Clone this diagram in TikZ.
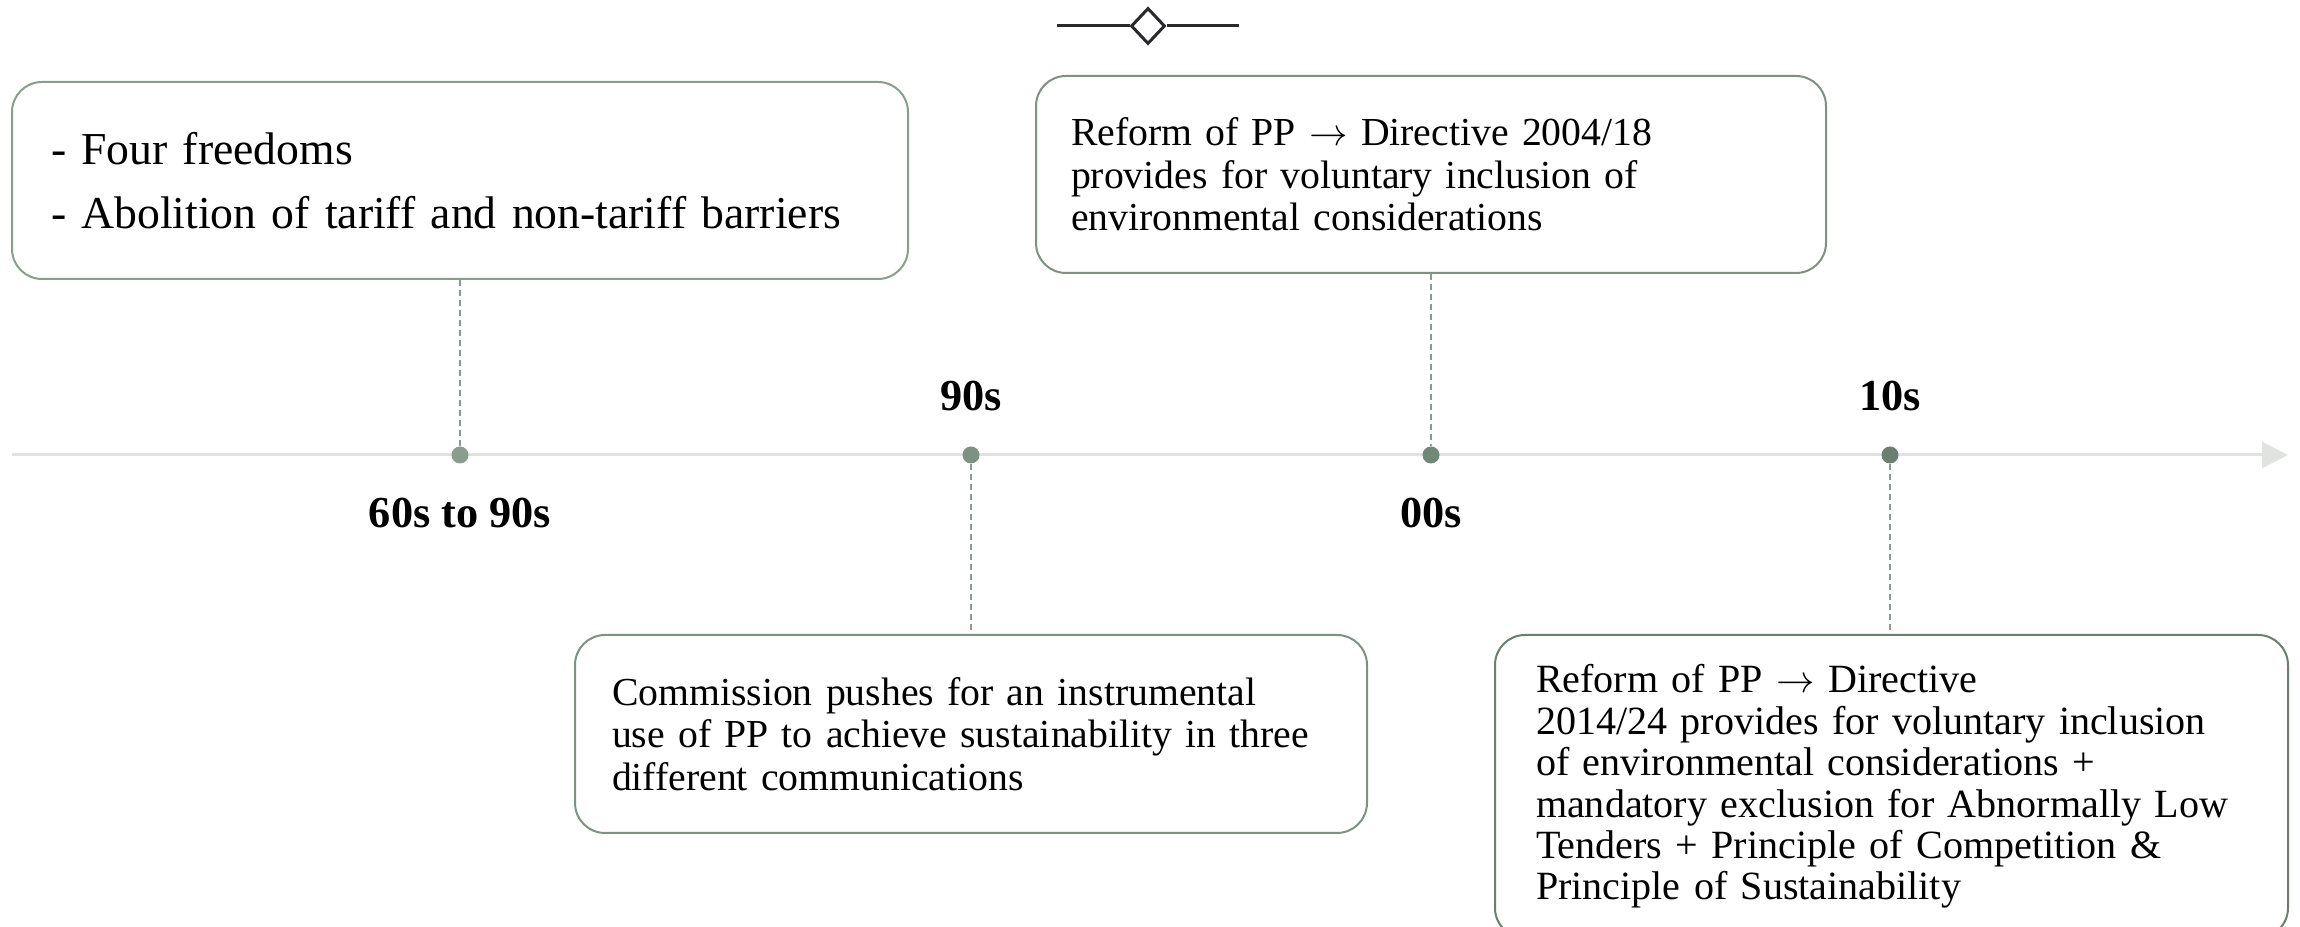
\documentclass[tikz,border=0pt]{standalone}
\usepackage{fontspec}
\setmainfont{Liberation Serif}
\usetikzlibrary{shapes.geometric,arrows.meta}
\definecolor{cA}{HTML}{8A9E8E}
\definecolor{cB}{HTML}{7D9282}
\definecolor{cC}{HTML}{718778}
\definecolor{cD}{HTML}{6A7F6F}
\definecolor{axisgray}{HTML}{E0E3E0}
\definecolor{dashgray}{HTML}{8A9A8E}
\definecolor{ink}{HTML}{2A2A2E}
\tikzset{
  evbox/.style={draw=#1, line width=0.2mm, rounded corners=3mm, fill=white,
    inner ysep=0pt, align=left, anchor=center},
  smalltxt/.style={font=\fontsize{11.3}{12.1}\selectfont},
  brtxt/.style={font=\fontsize{11.4}{11.8}\selectfont},
  bigtxt/.style={font=\fontsize{13.0}{18.35}\selectfont},
  era/.style={font=\fontsize{12.6}{15}\selectfont\bfseries, anchor=base, inner sep=0pt},
  evdot/.style={circle, fill=#1, inner sep=0pt, minimum size=1.7mm},
  guide/.style={draw=dashgray, line width=0.2mm, dash pattern=on 0.6mm off 0.4mm},
}
\begin{document}
\begin{tikzpicture}[x=0.1mm, y=-0.1mm]
\useasboundingbox (0,0) rectangle (2300,927);
\clip (0,0) rectangle (2300,927);

% legend mark at top
\coordinate (legL) at (1057,26);
\coordinate (legR) at (1239,26);
\node[diamond, draw=ink, line width=0.3mm, inner sep=0pt, minimum width=3.4mm, minimum height=3.6mm, fill=white] (leg) at (1148,26) {};
\draw[ink, line width=0.3mm] (legL) -- (leg.west);
\draw[ink, line width=0.3mm] (leg.east) -- (legR);

% axis
\coordinate (axS) at (12,455);
\coordinate (axE) at (2288,455);
\draw[axisgray, line width=0.3mm, -{Triangle[length=2.6mm, width=2.6mm]}] (axS) -- (axE);

% dots
\node[evdot=cA] (d1) at (460,455) {};
\node[evdot=cB] (d2) at (971,455) {};
\node[evdot=cC] (d3) at (1431,455) {};
\node[evdot=cD] (d4) at (1890,455) {};

% era labels
\node[era] (l1) at (460,528) {60s to 90s};
\node[era] (l2) at (971,411) {90s};
\node[era] (l3) at (1431,528) {00s};
\node[era] (l4) at (1890,411) {10s};

% boxes
\node[evbox=cA, bigtxt, inner xsep=3.9mm, text width=81.8mm, minimum height=19.7mm] (b1) at (460,180.5)
  {- Four freedoms\\- Abolition of tariff and non-tariff barriers};
\node[evbox=cB, smalltxt, inner xsep=3.5mm, text width=72mm, minimum height=19.7mm] (b3) at (1431,174.5)
  {Reform of PP $\rightarrow$ Directive 2004/18\\provides for voluntary inclusion of\\environmental considerations};
\node[evbox=cB, smalltxt, inner xsep=3.7mm, text width=71.8mm, minimum height=19.8mm] (b2) at (971,734)
  {Commission pushes for an instrumental\\use of PP to achieve sustainability in three\\different communications};
\node[evbox=cD, brtxt, inner xsep=4.1mm, text width=71.1mm, minimum height=30.3mm] (b4) at (1891.5,786.5)
  {Reform of PP $\rightarrow$ Directive\\2014/24 provides for voluntary inclusion\\of environmental considerations +\\mandatory exclusion for Abnormally Low\\Tenders + Principle of Competition \&\\Principle of Sustainability};

% guides
\draw[guide] (b1.south) -- (d1);
\draw[guide] (b3.south) -- (d3);
\draw[guide] (d2) -- (b2.north);
\draw[guide] (d4) -- (d4 |- b4.north);
\end{tikzpicture}
\end{document}
